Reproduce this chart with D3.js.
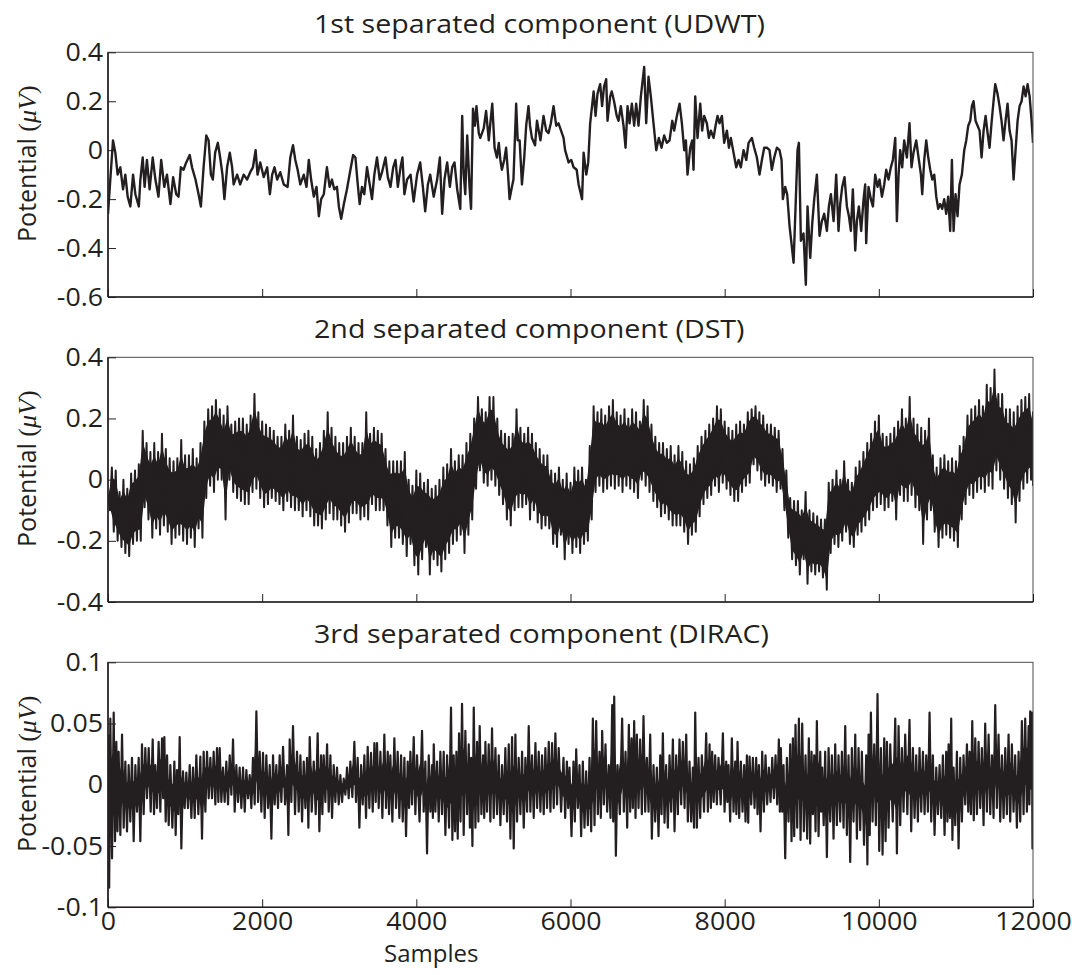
<!DOCTYPE html>
<html>
<head>
<meta charset="utf-8">
<script src="https://cdn.jsdelivr.net/npm/d3@7"></script>
<style>
  body { margin: 0; background: #fff; }
</style>
</head>
<body>
<svg id="fig" width="1072" height="975"></svg>
<script>
// ---- axis and label data ----
const sampleTicks = [0, 2000, 4000, 6000, 8000, 10000, 12000];
const sampleTickLabels = ["0", "2000", "4000", "6000", "8000", "10000", "12000"];
const panelTitles = [
  "1st separated component (UDWT)",
  "2nd separated component (DST)",
  "3rd separated component (DIRAC)"
];
const udwtTicks = [0.4, 0.2, 0, -0.2, -0.4, -0.6];
const udwtTickLabels = ["0.4", "0.2", "0", "-0.2", "-0.4", "-0.6"];
const dstTicks = [0.4, 0.2, 0, -0.2, -0.4];
const dstTickLabels = ["0.4", "0.2", "0", "-0.2", "-0.4"];
const diracTicks = [0.1, 0.05, 0, -0.05, -0.1];
const diracTickLabels = ["0.1", "0.05", "0", "-0.05", "-0.1"];

// ---- 1st component: traced waveform, [sample, potential] ----
const udwtTrace = [
  [0,-0.26],[30,-0.12],[65,0.04],[95,-0.01],[125,-0.10],[160,-0.07],[195,-0.16],[225,-0.10],[255,-0.19],[290,-0.23],
  [325,-0.10],[355,-0.18],[400,-0.23],[420,-0.12],[450,-0.03],[475,-0.15],[505,-0.04],[540,-0.16],[580,-0.03],[615,-0.12],
  [655,-0.19],[690,-0.04],[730,-0.15],[765,-0.10],[810,-0.22],[845,-0.11],[885,-0.18],[915,-0.19],[945,-0.07],[980,-0.08],
  [1015,-0.05],[1060,-0.02],[1090,-0.07],[1135,-0.12],[1175,-0.18],[1205,-0.23],[1240,-0.07],[1275,0.06],[1305,0.04],[1335,-0.10],
  [1360,-0.12],[1390,-0.01],[1425,0.03],[1455,-0.03],[1485,-0.10],[1510,-0.20],[1545,-0.07],[1580,-0.01],[1610,-0.07],[1630,-0.14],
  [1675,-0.10],[1715,-0.14],[1760,-0.10],[1805,-0.12],[1845,-0.09],[1880,-0.07],[1915,0.00],[1940,-0.10],[1975,-0.05],[2020,-0.11],
  [2065,-0.07],[2100,-0.18],[2130,-0.10],[2160,-0.07],[2195,-0.12],[2235,-0.09],[2280,-0.14],[2330,-0.15],[2365,-0.03],[2400,0.02],
  [2430,-0.04],[2460,-0.08],[2495,-0.14],[2540,-0.10],[2575,-0.15],[2605,-0.04],[2635,-0.12],[2670,-0.19],[2705,-0.15],[2735,-0.27],
  [2765,-0.20],[2800,-0.18],[2840,-0.07],[2875,-0.15],[2905,-0.12],[2935,-0.16],[2970,-0.15],[2995,-0.23],[3025,-0.28],[3060,-0.22],
  [3100,-0.16],[3145,-0.08],[3180,-0.02],[3210,-0.03],[3240,-0.14],[3265,-0.22],[3295,-0.15],[3325,-0.18],[3360,-0.07],[3395,-0.14],
  [3425,-0.20],[3455,-0.10],[3490,-0.03],[3525,-0.12],[3555,-0.09],[3600,-0.03],[3630,-0.11],[3665,-0.15],[3700,-0.07],[3730,-0.04],
  [3760,-0.15],[3795,-0.07],[3820,-0.03],[3845,-0.18],[3880,-0.12],[3925,-0.10],[3965,-0.21],[4010,-0.10],[4050,-0.05],[4085,-0.15],
  [4115,-0.25],[4150,-0.14],[4180,-0.10],[4225,-0.19],[4270,-0.12],[4305,-0.03],[4335,-0.26],[4365,-0.12],[4400,-0.05],[4435,-0.15],
  [4465,-0.07],[4495,-0.05],[4530,-0.16],[4570,-0.24],[4595,0.14],[4615,-0.10],[4635,-0.18],[4660,0.06],[4690,-0.15],[4710,-0.24],
  [4735,0.17],[4760,0.10],[4780,0.18],[4810,0.07],[4830,0.05],[4875,0.09],[4905,0.16],[4940,0.04],[4960,0.11],[4985,0.19],
  [5015,0.01],[5045,-0.03],[5070,0.03],[5090,-0.04],[5110,-0.08],[5140,-0.04],[5165,0.01],[5190,-0.10],[5210,-0.20],[5240,-0.15],
  [5260,-0.12],[5295,0.19],[5315,0.04],[5340,0.04],[5370,-0.14],[5400,-0.03],[5425,0.10],[5455,0.18],[5475,0.10],[5500,0.05],
  [5540,0.02],[5565,0.12],[5610,0.04],[5650,0.14],[5685,0.08],[5715,0.07],[5745,0.11],[5780,0.18],[5815,0.10],[5845,0.11],
  [5910,0.05],[5930,0.00],[5975,-0.05],[6010,-0.04],[6040,-0.07],[6080,-0.08],[6105,-0.14],[6135,-0.18],[6150,-0.20],[6170,-0.01],
  [6205,-0.10],[6230,-0.05],[6255,0.11],[6300,0.24],[6325,0.14],[6350,0.23],[6385,0.27],[6410,0.18],[6435,0.26],[6463,0.29],
  [6480,0.12],[6515,0.22],[6535,0.24],[6565,0.20],[6600,0.14],[6623,0.12],[6653,0.18],[6688,0.10],[6714,0.01],[6740,0.18],
  [6766,0.11],[6796,0.19],[6826,0.10],[6852,0.19],[6882,0.10],[6913,0.22],[6956,0.34],[6982,0.11],[7012,0.30],[7042,0.22],
  [7077,0.11],[7112,0.00],[7146,0.05],[7181,0.01],[7215,0.06],[7250,0.03],[7285,0.04],[7320,0.12],[7345,0.08],[7380,0.14],
  [7415,0.19],[7445,0.11],[7475,0.00],[7497,0.04],[7518,-0.10],[7553,0.01],[7579,0.04],[7596,-0.08],[7618,0.22],[7648,0.05],
  [7683,0.19],[7708,0.08],[7734,0.14],[7769,0.11],[7795,0.05],[7821,0.08],[7856,0.05],[7882,0.10],[7907,0.14],[7933,0.11],
  [7964,0.14],[7994,0.03],[8029,0.08],[8055,0.01],[8080,0.05],[8115,-0.01],[8150,-0.07],[8180,-0.04],[8210,-0.07],[8245,0.00],
  [8280,-0.04],[8310,0.03],[8353,0.05],[8383,0.01],[8418,-0.03],[8452,-0.10],[8483,-0.04],[8513,0.01],[8548,0.01],[8582,0.00],
  [8612,-0.08],[8643,-0.03],[8677,0.01],[8712,0.00],[8738,-0.04],[8755,-0.20],[8785,-0.15],[8811,-0.18],[8842,-0.31],[8863,-0.37],
  [8894,-0.46],[8920,-0.23],[8945,0.00],[8963,0.03],[8989,-0.37],[9023,-0.34],[9053,-0.55],[9075,-0.23],[9110,-0.44],[9136,-0.30],
  [9162,-0.20],[9196,-0.10],[9231,-0.35],[9261,-0.29],[9291,-0.26],[9326,-0.33],[9352,-0.23],[9378,-0.18],[9413,-0.29],[9447,-0.10],
  [9477,-0.33],[9499,-0.22],[9525,-0.15],[9555,-0.11],[9586,-0.23],[9612,-0.27],[9637,-0.33],[9663,-0.16],[9694,-0.41],[9715,-0.29],
  [9741,-0.23],[9771,-0.33],[9802,-0.20],[9823,-0.14],[9836,-0.38],[9866,-0.15],[9897,-0.20],[9923,-0.23],[9953,-0.10],[9983,-0.15],
  [10009,-0.12],[10040,-0.19],[10070,-0.14],[10096,-0.08],[10126,-0.12],[10156,-0.07],[10182,-0.04],[10213,0.05],[10234,-0.29],[10256,-0.10],
  [10277,0.00],[10303,-0.07],[10329,0.04],[10364,-0.03],[10398,0.11],[10424,-0.07],[10450,-0.01],[10485,0.04],[10515,-0.03],[10546,-0.10],
  [10563,-0.18],[10589,-0.04],[10615,0.04],[10641,-0.03],[10667,-0.08],[10693,-0.12],[10719,-0.10],[10745,-0.19],[10770,-0.24],[10796,-0.22],
  [10822,-0.24],[10848,-0.20],[10874,-0.26],[10900,-0.19],[10926,-0.33],[10948,-0.04],[10970,-0.33],[10995,-0.18],[11021,-0.27],[11047,-0.14],
  [11077,-0.10],[11108,0.00],[11134,0.04],[11160,0.10],[11186,0.12],[11207,0.18],[11229,0.20],[11255,0.12],[11281,0.10],[11307,0.08],
  [11333,-0.03],[11359,0.08],[11385,0.14],[11411,0.07],[11436,0.01],[11462,0.11],[11488,0.20],[11510,0.27],[11540,0.23],[11566,0.18],
  [11592,0.12],[11618,0.04],[11644,0.12],[11670,0.19],[11696,0.08],[11722,0.04],[11748,-0.12],[11774,0.00],[11800,0.12],[11826,0.18],
  [11852,0.20],[11878,0.26],[11904,0.22],[11930,0.27],[11956,0.22],[11982,0.12],[12000,0.03]
];

// ---- 2nd component: per-bin extremes, one bin every dstBinSize samples ----
const dstBinSize = 50;
const dstUpper = [
  -0.05,0.04,0.03,-0.04,0.00,-0.03,0.02,0.03,0.05,0.16,
  0.12,0.09,0.12,0.09,0.15,0.10,0.07,0.06,0.07,0.13,
  0.08,0.08,0.10,0.07,0.12,0.19,0.23,0.24,0.26,0.23,
  0.21,0.24,0.18,0.19,0.20,0.20,0.18,0.21,0.28,0.22,
  0.19,0.18,0.17,0.16,0.14,0.14,0.18,0.16,0.21,0.14,
  0.13,0.15,0.16,0.14,0.10,0.12,0.16,0.22,0.17,0.14,
  0.12,0.12,0.14,0.17,0.14,0.12,0.12,0.22,0.15,0.17,
  0.16,0.15,0.10,0.06,0.06,0.06,0.06,0.09,0.00,-0.02,
  0.03,0.02,-0.01,0.00,-0.03,-0.02,0.00,0.04,0.05,0.10,
  0.06,0.08,0.08,0.12,0.15,0.20,0.27,0.23,0.22,0.27,
  0.27,0.20,0.16,0.15,0.14,0.15,0.23,0.17,0.15,0.17,
  0.15,0.12,0.10,0.08,0.08,0.03,0.02,0.04,0.00,0.02,
  -0.01,0.04,0.03,0.04,0.00,0.11,0.24,0.22,0.23,0.21,
  0.24,0.26,0.22,0.21,0.23,0.20,0.23,0.22,0.19,0.26,
  0.24,0.18,0.14,0.12,0.12,0.10,0.11,0.08,0.11,0.09,
  0.06,0.05,0.07,0.11,0.14,0.16,0.18,0.20,0.24,0.23,
  0.19,0.17,0.16,0.18,0.19,0.18,0.22,0.23,0.24,0.22,
  0.21,0.18,0.18,0.17,0.16,0.10,0.03,-0.06,-0.07,-0.07,
  -0.10,-0.04,-0.10,-0.11,-0.12,-0.13,-0.13,-0.01,0.00,0.03,
  0.00,0.06,0.00,-0.01,0.04,0.06,0.09,0.12,0.15,0.19,
  0.21,0.15,0.14,0.15,0.17,0.19,0.23,0.20,0.27,0.20,
  0.18,0.17,0.16,0.20,0.08,0.04,0.07,0.08,0.06,0.07,
  0.06,0.11,0.14,0.21,0.23,0.24,0.26,0.24,0.31,0.30,
  0.36,0.28,0.28,0.23,0.23,0.22,0.24,0.26,0.27,0.28,
  0.22
];
const dstLower = [
  -0.10,-0.17,-0.20,-0.22,-0.24,-0.25,-0.21,-0.20,-0.20,-0.09,
  -0.13,-0.19,-0.16,-0.18,-0.15,-0.17,-0.21,-0.19,-0.18,-0.20,
  -0.21,-0.19,-0.22,-0.16,-0.19,-0.06,-0.02,-0.04,0.00,0.00,
  -0.13,0.00,-0.04,-0.06,-0.07,-0.08,-0.08,-0.04,-0.03,-0.06,
  -0.09,-0.08,-0.06,-0.07,-0.08,-0.10,-0.07,-0.09,-0.10,-0.10,
  -0.12,-0.10,-0.12,-0.15,-0.15,-0.16,-0.13,-0.11,-0.13,-0.13,
  -0.15,-0.17,-0.14,-0.11,-0.11,-0.13,-0.12,-0.13,-0.08,-0.10,
  -0.10,-0.10,-0.15,-0.22,-0.19,-0.19,-0.21,-0.25,-0.21,-0.28,
  -0.31,-0.26,-0.22,-0.31,-0.26,-0.28,-0.30,-0.26,-0.24,-0.21,
  -0.20,-0.18,-0.24,-0.18,-0.13,-0.03,0.03,-0.01,-0.02,0.00,
  -0.02,-0.05,-0.08,-0.13,-0.15,-0.10,-0.09,-0.09,-0.08,-0.13,
  -0.10,-0.14,-0.16,-0.15,-0.16,-0.21,-0.22,-0.18,-0.26,-0.21,
  -0.24,-0.22,-0.24,-0.21,-0.20,-0.13,-0.04,-0.02,-0.04,-0.03,
  -0.02,-0.03,-0.02,-0.04,-0.02,-0.03,-0.04,-0.06,0.00,-0.02,
  -0.04,-0.07,-0.09,-0.12,-0.11,-0.13,-0.15,-0.15,-0.15,-0.17,
  -0.21,-0.18,-0.17,-0.12,-0.08,-0.06,-0.05,-0.02,-0.04,-0.01,
  -0.03,-0.05,-0.07,-0.07,-0.04,-0.02,-0.01,0.05,0.03,0.00,
  -0.02,-0.01,-0.02,-0.04,-0.03,-0.10,-0.19,-0.26,-0.28,-0.31,
  -0.26,-0.34,-0.30,-0.31,-0.30,-0.32,-0.36,-0.24,-0.21,-0.22,
  -0.20,-0.17,-0.21,-0.22,-0.18,-0.17,-0.15,-0.13,-0.10,-0.09,
  -0.08,-0.10,-0.09,-0.07,-0.13,-0.05,-0.07,-0.07,-0.05,-0.09,
  -0.10,-0.21,-0.13,-0.10,-0.17,-0.22,-0.19,-0.18,-0.19,-0.20,
  -0.22,-0.13,-0.08,-0.05,-0.06,-0.04,-0.03,-0.04,-0.02,-0.03,
  0.03,0.00,-0.03,-0.06,-0.08,-0.14,-0.07,-0.03,-0.01,0.00,
  -0.02
];

// ---- 3rd component: per-segment extremes, [sample, upper, lower] ----
const diracExtremes = [
  [0,0.041,-0.084],[30,0.054,-0.060],[74,0.059,-0.046],[108,0.035,-0.038],[138,0.027,-0.041],[182,0.041,-0.035],[225,0.019,-0.038],[268,0.016,-0.030],
  [311,0.022,-0.046],[355,0.016,-0.022],[398,0.022,-0.046],[441,0.033,-0.024],[484,0.030,-0.011],[528,0.030,-0.022],[580,0.037,-0.024],[614,0.016,-0.019],
  [657,0.035,-0.022],[701,0.038,-0.011],[731,0.039,-0.030],[766,0.024,-0.033],[809,0.016,-0.035],[861,0.019,-0.041],[895,0.012,-0.024],[930,0.039,-0.052],
  [973,0.011,-0.019],[1016,0.010,-0.019],[1060,0.016,-0.027],[1103,0.014,-0.027],[1146,0.024,-0.024],[1198,0.023,-0.044],[1241,0.027,-0.022],[1285,0.027,-0.011],
  [1328,0.022,-0.011],[1371,0.027,-0.016],[1414,0.030,-0.014],[1449,0.030,-0.014],[1492,0.014,-0.014],[1535,0.019,-0.016],[1579,0.024,-0.008],[1622,0.037,-0.022],
  [1665,0.016,-0.014],[1708,0.014,-0.019],[1752,0.014,-0.022],[1795,0.012,-0.011],[1838,0.008,-0.019],[1881,0.022,-0.016],[1925,0.060,-0.014],[1968,0.027,-0.022],
  [2011,0.026,-0.027],[2054,0.024,-0.019],[2098,0.016,-0.044],[2141,0.024,-0.016],[2184,0.016,-0.019],[2227,0.024,-0.014],[2271,0.031,-0.016],[2323,0.016,-0.041],
  [2357,0.037,-0.014],[2400,0.048,-0.024],[2452,0.027,-0.022],[2496,0.024,-0.030],[2539,0.019,-0.019],[2582,0.022,-0.035],[2617,0.039,-0.022],[2669,0.019,-0.024],
  [2720,0.042,-0.038],[2764,0.024,-0.024],[2798,0.024,-0.014],[2842,0.033,-0.022],[2885,0.024,-0.027],[2928,0.016,-0.014],[2971,0.014,-0.016],[3015,0.008,-0.014],
  [3058,0.005,-0.008],[3101,0.014,-0.011],[3144,0.019,-0.010],[3196,0.035,-0.014],[3239,0.022,-0.035],[3283,0.016,-0.016],[3326,0.024,-0.027],[3369,0.031,-0.019],
  [3412,0.026,-0.022],[3456,0.034,-0.014],[3490,0.034,-0.019],[3534,0.027,-0.027],[3585,0.041,-0.019],[3629,0.027,-0.024],[3663,0.024,-0.030],[3715,0.038,-0.019],
  [3758,0.027,-0.027],[3802,0.024,-0.030],[3845,0.022,-0.042],[3888,0.019,-0.019],[3923,0.027,-0.016],[3966,0.039,-0.024],[4009,0.024,-0.030],[4074,0.044,-0.022],
  [4117,0.019,-0.056],[4161,0.024,-0.022],[4204,0.016,-0.027],[4226,0.033,-0.022],[4269,0.019,-0.030],[4312,0.027,-0.024],[4355,0.027,-0.041],[4399,0.024,-0.035],
  [4450,0.063,-0.045],[4485,0.024,-0.038],[4520,0.027,-0.044],[4554,0.042,-0.030],[4593,0.066,-0.041],[4636,0.044,-0.024],[4680,0.033,-0.035],[4710,0.022,-0.050],
  [4745,0.063,-0.035],[4788,0.035,-0.030],[4822,0.048,-0.024],[4866,0.024,-0.027],[4896,0.035,-0.022],[4939,0.033,-0.030],[4982,0.046,-0.027],[5026,0.030,-0.024],
  [5069,0.024,-0.033],[5112,0.016,-0.024],[5155,0.030,-0.030],[5199,0.033,-0.044],[5242,0.039,-0.052],[5285,0.041,-0.030],[5328,0.022,-0.024],[5372,0.027,-0.035],
  [5415,0.022,-0.022],[5458,0.048,-0.022],[5501,0.024,-0.027],[5545,0.034,-0.019],[5588,0.027,-0.022],[5631,0.024,-0.024],[5674,0.030,-0.019],[5718,0.035,-0.022],
  [5761,0.034,-0.019],[5804,0.042,-0.016],[5847,0.030,-0.022],[5909,0.022,-0.027],[5953,0.019,-0.019],[5987,0.014,-0.042],[6039,0.019,-0.030],[6074,0.029,-0.019],
  [6117,0.016,-0.042],[6160,0.019,-0.035],[6203,0.011,-0.033],[6247,0.022,-0.038],[6290,0.054,-0.033],[6333,0.052,-0.024],[6376,0.027,-0.027],[6411,0.044,-0.016],
  [6454,0.033,-0.022],[6497,0.016,-0.027],[6541,0.065,-0.030],[6567,0.072,-0.058],[6610,0.016,-0.024],[6670,0.054,-0.022],[6714,0.027,-0.035],[6757,0.049,-0.022],
  [6792,0.038,-0.019],[6826,0.052,-0.027],[6861,0.041,-0.019],[6904,0.037,-0.024],[6947,0.056,-0.022],[6991,0.022,-0.022],[7034,0.041,-0.044],[7077,0.016,-0.030],
  [7120,0.014,-0.042],[7164,0.024,-0.024],[7198,0.042,-0.031],[7241,0.016,-0.035],[7285,0.024,-0.022],[7328,0.037,-0.038],[7371,0.024,-0.024],[7414,0.037,-0.016],
  [7458,0.035,-0.019],[7501,0.041,-0.030],[7544,0.019,-0.030],[7587,0.014,-0.035],[7618,0.059,-0.035],[7661,0.022,-0.027],[7704,0.024,-0.022],[7760,0.042,-0.022],
  [7804,0.033,-0.019],[7838,0.027,-0.014],[7877,0.024,-0.016],[7920,0.022,-0.016],[7977,0.042,-0.022],[8020,0.019,-0.014],[8050,0.016,-0.030],[8093,0.038,-0.022],
  [8137,0.019,-0.024],[8167,0.035,-0.027],[8210,0.019,-0.022],[8253,0.016,-0.030],[8288,0.024,-0.031],[8323,0.023,-0.016],[8366,0.022,-0.019],[8409,0.022,-0.024],
  [8444,0.016,-0.038],[8487,0.027,-0.022],[8530,0.024,-0.016],[8573,0.014,-0.014],[8617,0.022,-0.011],[8660,0.024,-0.016],[8703,0.037,-0.022],[8729,0.030,-0.022],
  [8764,0.016,-0.060],[8807,0.022,-0.030],[8850,0.033,-0.046],[8885,0.038,-0.042],[8919,0.049,-0.035],[8963,0.054,-0.045],[9006,0.050,-0.038],[9049,0.024,-0.044],
  [9092,0.038,-0.048],[9127,0.027,-0.024],[9162,0.024,-0.038],[9196,0.052,-0.042],[9240,0.027,-0.022],[9265,0.014,-0.033],[9304,0.027,-0.059],[9348,0.030,-0.030],
  [9391,0.024,-0.044],[9434,0.033,-0.033],[9477,0.024,-0.030],[9521,0.027,-0.035],[9564,0.048,-0.041],[9607,0.024,-0.063],[9650,0.030,-0.030],[9694,0.041,-0.044],
  [9737,0.030,-0.037],[9780,0.027,-0.049],[9836,0.024,-0.065],[9867,0.041,-0.041],[9897,0.059,-0.030],[9940,0.033,-0.033],[9983,0.074,-0.054],[10027,0.030,-0.057],
  [10070,0.038,-0.046],[10105,0.035,-0.035],[10148,0.033,-0.030],[10213,0.054,-0.056],[10256,0.048,-0.033],[10299,0.030,-0.022],[10342,0.041,-0.024],[10398,0.053,-0.038],
  [10442,0.030,-0.027],[10485,0.024,-0.030],[10528,0.030,-0.022],[10572,0.027,-0.024],[10615,0.024,-0.022],[10658,0.059,-0.030],[10701,0.024,-0.041],[10745,0.014,-0.024],
  [10788,0.016,-0.027],[10831,0.024,-0.041],[10874,0.027,-0.030],[10905,0.033,-0.027],[10939,0.054,-0.045],[10970,0.014,-0.033],[11013,0.027,-0.052],[11056,0.022,-0.030],
  [11099,0.024,-0.016],[11143,0.033,-0.022],[11177,0.027,-0.024],[11212,0.052,-0.029],[11251,0.038,-0.024],[11294,0.035,-0.019],[11337,0.030,-0.033],[11380,0.050,-0.022],
  [11424,0.041,-0.024],[11467,0.024,-0.027],[11510,0.065,-0.019],[11553,0.041,-0.030],[11597,0.024,-0.027],[11640,0.030,-0.024],[11683,0.041,-0.030],[11726,0.033,-0.022],
  [11769,0.024,-0.035],[11813,0.027,-0.030],[11856,0.052,-0.024],[11899,0.054,-0.022],[11943,0.048,-0.016],[11964,0.060,-0.003],[11986,0.059,-0.052],[12000,0.055,-0.050]
];

// ---- figure ----
const INK = "#231f20";
const SANS = "'Open Sans', 'Noto Sans', sans-serif";
const SERIF = "'Liberation Serif', 'DejaVu Serif', serif";
const TICK_STRETCH = 1.07;   // horizontal stretch of tick labels
const TITLE_STRETCH = 1.1;   // horizontal stretch of panel titles

const svg = d3.select("#fig");
const x = d3.scaleLinear().domain([0, 12000]).range([108, 1033]);

// Per-bin extremes -> alternating up/down trace (upper at bin start, lower mid-bin)
function binMid(bins, i) {
  const b = bins[i];
  const next = i + 1 < bins.length ? bins[i + 1].s : b.s + (b.s - bins[i - 1].s);
  return Math.min((b.s + next) / 2, 12000);
}
function extremesToTrace(bins) {
  const pts = [];
  bins.forEach((b, i) => {
    pts.push([b.s, b.hi]);
    pts.push([binMid(bins, i), b.lo]);
  });
  return pts;
}

const dstBins = dstUpper.map((hi, i) => ({ s: i * dstBinSize, hi, lo: dstLower[i] }));
const diracBins = diracExtremes.map(d => ({ s: d[0], hi: d[1], lo: d[2] }));

const panels = [
  { title: panelTitles[0], top: 52.3, bottom: 297, domain: [-0.6, 0.4],
    ticks: udwtTicks, labels: udwtTickLabels, trace: udwtTrace, width: 2.4, xLabels: false },
  { title: panelTitles[1], top: 357.3, bottom: 602, domain: [-0.4, 0.4],
    ticks: dstTicks, labels: dstTickLabels, trace: extremesToTrace(dstBins),
    band: dstBins, inset: 0.15, width: 2, xLabels: false },
  { title: panelTitles[2], top: 662.3, bottom: 907.3, domain: [-0.1, 0.1],
    ticks: diracTicks, labels: diracTickLabels, trace: extremesToTrace(diracBins),
    band: diracBins, inset: 0.3, width: 2.2, xLabels: true }
];

panels.forEach((p, idx) => {
  const y = d3.scaleLinear().domain(p.domain).range([p.bottom, p.top]);
  const g = svg.append("g");

  const clipId = "clip" + idx;
  svg.append("clipPath").attr("id", clipId)
    .append("rect").attr("x", x(0)).attr("y", p.top)
    .attr("width", x(12000) - x(0)).attr("height", p.bottom - p.top);

  const plot = g.append("g").attr("clip-path", `url(#${clipId})`);

  // dense signal: solid core covering the inner part of each bin's range
  if (p.band) {
    const bins = p.band;
    const k = p.inset;
    plot.append("path")
      .datum(bins.map((b, i) => ({
        s0: b.s, s1: binMid(bins, i),
        top: b.hi - k * (b.hi - b.lo), bot: b.lo + k * (b.hi - b.lo)
      })))
      .attr("fill", INK)
      .attr("d", d3.area()
        .x1(d => x(d.s0)).y1(d => y(d.top))
        .x0(d => x(d.s1)).y0(d => y(d.bot)));
  }

  // waveform
  plot.append("path")
    .datum(p.trace)
    .attr("fill", "none")
    .attr("stroke", INK)
    .attr("stroke-width", p.width)
    .attr("stroke-linejoin", "round")
    .attr("d", d3.line().x(d => x(d[0])).y(d => y(d[1])));

  // frame
  g.append("rect")
    .attr("x", x(0)).attr("y", p.top)
    .attr("width", x(12000) - x(0)).attr("height", p.bottom - p.top)
    .attr("fill", "none").attr("stroke", "#4a4a4a").attr("stroke-width", 1);

  // y axis (ticks point inward)
  const pad = 5;
  const yAxis = d3.axisLeft(y)
    .tickValues(p.ticks)
    .tickFormat((d, i) => p.labels[i])
    .tickSize(-8)
    .tickPadding(pad);
  const ga = g.append("g").attr("transform", `translate(${x(0)},0)`).call(yAxis);
  ga.select(".domain").remove();
  ga.attr("font-family", SANS).attr("font-size", 25);
  ga.selectAll("line").attr("stroke", INK).attr("stroke-width", 1);
  ga.selectAll("text").attr("fill", INK)
    .attr("transform", `translate(${-pad},0) scale(${TICK_STRETCH},1) translate(${pad},0)`);

  // x axis
  const xAxis = d3.axisBottom(x)
    .tickValues(sampleTicks)
    .tickFormat((d, i) => p.xLabels ? sampleTickLabels[i] : "")
    .tickSize(-8)
    .tickPadding(5);
  const gx = g.append("g").attr("transform", `translate(0,${p.bottom})`).call(xAxis);
  gx.select(".domain").remove();
  gx.attr("font-family", SANS).attr("font-size", 25);
  gx.selectAll("line").attr("stroke", INK).attr("stroke-width", 1);
  gx.selectAll("text").attr("fill", INK).attr("transform", `scale(${TICK_STRETCH},1)`);

  // darker left and bottom spines
  g.append("line").attr("x1", x(0)).attr("x2", x(0)).attr("y1", p.top).attr("y2", p.bottom)
    .attr("stroke", INK).attr("stroke-width", 1.6);
  g.append("line").attr("x1", x(0)).attr("x2", x(12000)).attr("y1", p.bottom).attr("y2", p.bottom)
    .attr("stroke", INK).attr("stroke-width", 1.6);

  // title
  g.append("text")
    .attr("transform", `translate(314,${p.top - 19}) scale(${TITLE_STRETCH},1)`)
    .attr("font-family", SANS).attr("font-size", 26).attr("fill", INK)
    .text(p.title);

  // y label: Potential (μV)
  const cy = (p.top + p.bottom) / 2 - 11;
  const yl = g.append("text")
    .attr("transform", `translate(36,${cy}) rotate(-90)`)
    .attr("text-anchor", "middle")
    .attr("font-family", SANS).attr("font-size", 25).attr("fill", INK);
  yl.append("tspan").text("Potential ");
  yl.append("tspan").attr("font-family", SERIF).attr("font-size", 26).text("(");
  yl.append("tspan").attr("font-family", SERIF).attr("font-size", 26).attr("font-style", "italic").text("μV");
  yl.append("tspan").attr("font-family", SERIF).attr("font-size", 26).text(")");
});

// x-axis title
svg.append("text")
  .attr("x", 384).attr("y", 962)
  .attr("font-family", SANS).attr("font-size", 24).attr("fill", INK)
  .text("Samples");
</script>
</body>
</html>
